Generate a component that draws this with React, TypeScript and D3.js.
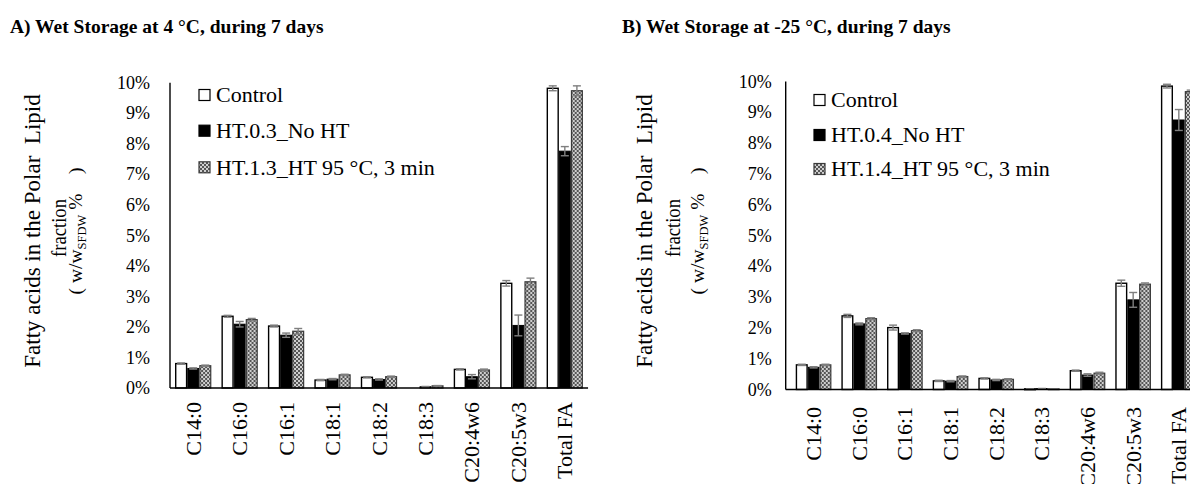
import React from "react";
import * as d3 from "d3";

// Fatty acid categories
const categories = ["C14:0", "C16:0", "C16:1", "C18:1", "C18:2", "C18:3", "C20:4w6", "C20:5w3", "Total FA"];

// Panel A – wet storage at 4 °C (% w/w SFDW)
const aControl = [0.8, 2.35, 2.03, 0.26, 0.35, 0.0, 0.61, 3.43, 9.82];
const aControlErr = [0.02, 0.03, 0.03, 0.02, 0.02, 0.0, 0.02, 0.09, 0.08];
const aNoHT = [0.64, 2.09, 1.73, 0.29, 0.28, 0.04, 0.37, 2.05, 7.76];
const aNoHTErr = [0.02, 0.09, 0.07, 0.02, 0.02, 0.01, 0.07, 0.34, 0.15];
const aHT = [0.73, 2.24, 1.86, 0.43, 0.37, 0.07, 0.59, 3.48, 9.74];
const aHTErr = [0.02, 0.04, 0.09, 0.02, 0.02, 0.01, 0.03, 0.12, 0.16];

// Panel B – wet storage at -25 °C (% w/w SFDW)
const bControl = [0.8, 2.39, 2.01, 0.28, 0.36, 0.02, 0.61, 3.45, 9.85];
const bControlErr = [0.02, 0.05, 0.08, 0.02, 0.02, 0.0, 0.02, 0.1, 0.06];
const bNoHT = [0.72, 2.13, 1.82, 0.27, 0.31, 0.03, 0.47, 2.91, 8.75];
const bNoHTErr = [0.02, 0.03, 0.02, 0.02, 0.02, 0.0, 0.04, 0.24, 0.34];
const bHT = [0.8, 2.3, 1.91, 0.42, 0.33, 0.02, 0.53, 3.42, 9.67];
const bHTErr = [0.02, 0.03, 0.03, 0.02, 0.02, 0.0, 0.03, 0.04, 0.05];

const yTicks = [0, 1, 2, 3, 4, 5, 6, 7, 8, 9, 10];
const seriesKeys = ["control", "noht", "ht"];
const legendA = ["Control", "HT.0.3_No HT", "HT.1.3_HT 95 °C, 3 min"];
const legendB = ["Control", "HT.0.4_No HT", "HT.1.4_HT 95 °C, 3 min"];

const FAMILY = "Liberation Serif, Times New Roman, Times, serif";
const ERR_COLOR = "#7f7f7f";

const txt = (size: number, extra: React.CSSProperties = {}): React.CSSProperties => ({
  fontFamily: FAMILY,
  fontSize: `${size}px`,
  whiteSpace: "pre",
  ...extra,
});

type PanelProps = {
  title: string;
  titleX: number;
  axisX: number;
  bandStart: number;
  step: number;
  y0: number;
  y10: number;
  tickGap: number;
  catTop: number;
  values: number[][];
  errors: number[][];
  legend: string[];
  legendX: number;
  legendRows: number[];
  yTitle: { x1: number; x2: number; x3: number; cy: number };
};

function seriesStyle(k: string) {
  if (k === "control") return { fill: "#ffffff", stroke: "#000", sw: 1.4 };
  if (k === "noht") return { fill: "#000000", stroke: "#000", sw: 1 };
  return { fill: "url(#checker)", stroke: "#3a3a3a", sw: 1.2 };
}

function Panel(p: PanelProps) {
  const x = d3
    .scaleBand<string>()
    .domain(categories)
    .range([p.bandStart, p.bandStart + p.step * categories.length])
    .paddingInner(0.22)
    .paddingOuter(0.11);
  const x1 = d3.scaleBand<string>().domain(seriesKeys).range([0, x.bandwidth()]);
  const y = d3.scaleLinear().domain([0, 10]).range([p.y0, p.y10]);
  const axisEnd = p.bandStart + p.step * categories.length;

  return (
    <g>
      <text x={p.titleX} y={33} style={txt(19.5, { fontWeight: "bold" })}>
        {p.title}
      </text>

      {/* y-axis title, three lines */}
      <text
        transform={`translate(${p.yTitle.x1},${p.yTitle.cy}) rotate(-90)`}
        textAnchor="middle"
        style={txt(23)}
      >
        {"Fatty acids in the Polar  Lipid"}
      </text>
      <text
        transform={`translate(${p.yTitle.x2},${p.yTitle.cy - 3}) rotate(-90)`}
        textAnchor="middle"
        style={txt(20)}
        textLength={58}
        lengthAdjust="spacingAndGlyphs"
      >
        fraction
      </text>
      <text
        transform={`translate(${p.yTitle.x3},${p.yTitle.cy}) rotate(-90)`}
        textAnchor="middle"
        style={txt(19.5)}
      >
        {"( w/w"}
        <tspan dy={4} style={{ fontSize: "12.5px" }}>SFDW</tspan>
        <tspan dy={-4}>{" %    )"}</tspan>
      </text>

      {/* y ticks */}
      {yTicks.map((t) => (
        <text key={t} x={p.axisX - p.tickGap} y={y(t)} dy="0.34em" textAnchor="end" style={txt(18)}>
          {`${t}%`}
        </text>
      ))}

      {/* bars */}
      {categories.map((c, i) => (
        <g key={c} transform={`translate(${x(c)},0)`}>
          {seriesKeys.map((k, s) => {
            const v = p.values[s][i];
            const st = seriesStyle(k);
            const bx = x1(k)!;
            const bw = x1.bandwidth();
            const h = p.y0 - y(v);
            if (v <= 0) return null;
            return (
              <rect
                key={k}
                x={bx + 0.6}
                y={y(v)}
                width={bw - 1.2}
                height={Math.max(h, 0.8)}
                fill={st.fill}
                stroke={st.stroke}
                strokeWidth={st.sw}
              />
            );
          })}
          {seriesKeys.map((k, s) => {
            const v = p.values[s][i];
            const e = p.errors[s][i];
            if (v <= 0) return null;
            const cx = x1(k)! + x1.bandwidth() / 2;
            const top = y(v + e);
            const bot = y(v - e);
            return (
              <g key={k + "e"} stroke={ERR_COLOR} strokeWidth={1.4}>
                <line x1={cx} x2={cx} y1={top} y2={bot} />
                <line x1={cx - 4} x2={cx + 4} y1={top} y2={top} />
                <line x1={cx - 4} x2={cx + 4} y1={bot} y2={bot} />
              </g>
            );
          })}
        </g>
      ))}

      {/* axes */}
      <line x1={p.axisX} x2={p.axisX} y1={p.y10} y2={p.y0} stroke="#000" strokeWidth={1.4} />
      <line x1={p.axisX} x2={axisEnd} y1={p.y0} y2={p.y0} stroke="#000" strokeWidth={1.4} />

      {/* category labels */}
      {categories.map((c) => (
        <text
          key={c + "l"}
          transform={`translate(${x(c)! + x.bandwidth() / 2},${p.catTop}) rotate(-90)`}
          dy="0.34em"
          textAnchor="end"
          style={txt(22)}
        >
          {c}
        </text>
      ))}

      {/* legend */}
      {p.legend.map((label, i) => {
        const st = seriesStyle(seriesKeys[i]);
        const cy = p.legendRows[i];
        return (
          <g key={label}>
            <rect
              x={p.legendX}
              y={cy - 5.5}
              width={11}
              height={11}
              fill={st.fill}
              stroke={st.stroke}
              strokeWidth={1.2}
            />
            <text x={p.legendX + 17} y={cy} dy="0.34em" style={txt(22)}>
              {label}
            </text>
          </g>
        );
      })}
    </g>
  );
}

export default function App() {
  return (
    <div style={{ position: "absolute", left: 0, top: 0 }}>
      <svg width={1190} height={484} style={{ display: "block", background: "#fff" }}>
        <defs>
          <pattern id="checker" width={4} height={4} patternUnits="userSpaceOnUse">
            <rect width={4} height={4} fill="#cfcfcf" />
            <rect width={2} height={2} fill="#555555" />
            <rect x={2} y={2} width={2} height={2} fill="#555555" />
          </pattern>
        </defs>
        <Panel
          title="A) Wet Storage at 4 °C, during 7 days"
          titleX={10}
          axisX={170}
          bandStart={170}
          step={46.45}
          y0={388}
          y10={82.8}
          tickGap={20}
          catTop={402}
          values={[aControl, aNoHT, aHT]}
          errors={[aControlErr, aNoHTErr, aHTErr]}
          legend={legendA}
          legendX={199}
          legendRows={[95, 130.7, 167.3]}
          yTitle={{ x1: 40, x2: 66, x3: 82, cy: 231 }}
        />
        <Panel
          title="B) Wet Storage at -25 °C, during 7 days"
          titleX={622}
          axisX={785.7}
          bandStart={790.8}
          step={45.65}
          y0={389.5}
          y10={81.5}
          tickGap={14}
          catTop={407}
          values={[bControl, bNoHT, bHT]}
          errors={[bControlErr, bNoHTErr, bHTErr]}
          legend={legendB}
          legendX={814}
          legendRows={[100, 135, 169]}
          yTitle={{ x1: 652, x2: 680, x3: 704, cy: 231 }}
        />
      </svg>
    </div>
  );
}
